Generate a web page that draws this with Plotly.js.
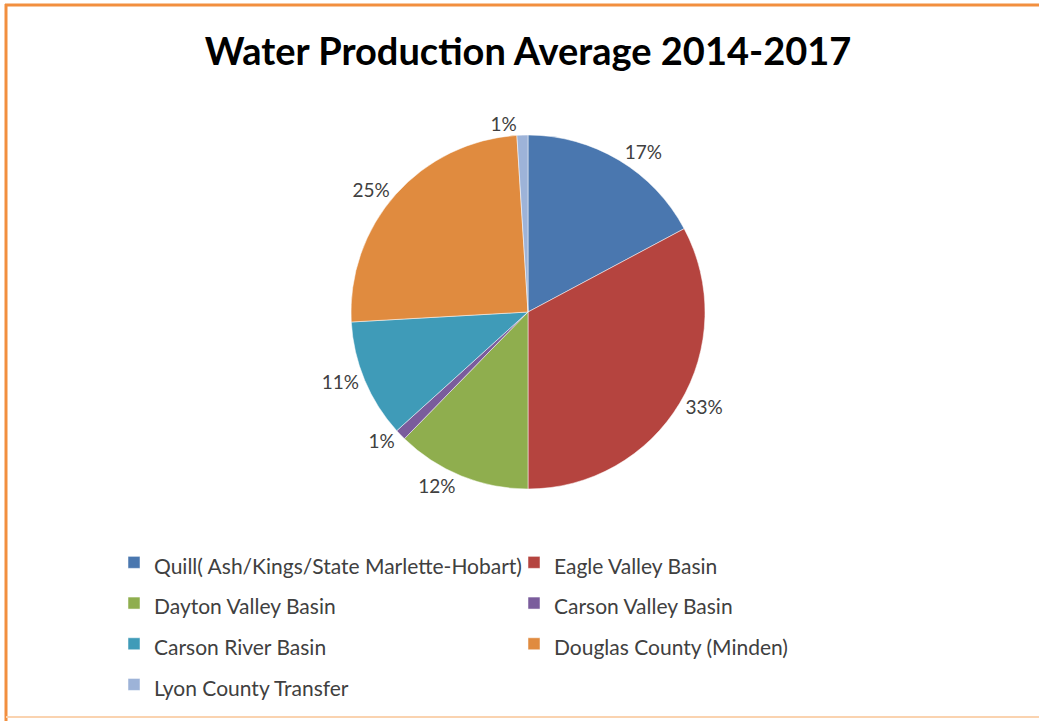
<!DOCTYPE html>
<html>
<head>
<meta charset="utf-8">
<script src="https://cdn.plot.ly/plotly-3.0.1.min.js"></script>
<style>
  html, body { margin: 0; padding: 0; background: #ffffff; }
  #chart { width: 1039px; height: 721px; }
</style>
</head>
<body>
<div id="chart"></div>
<script>
// Data (share of water production, %)
const labels = [
  "Quill( Ash/Kings/State Marlette-Hobart)",
  "Eagle Valley Basin",
  "Dayton Valley Basin",
  "Carson Valley Basin",
  "Carson River Basin",
  "Douglas County (Minden)",
  "Lyon County Transfer"
];
const values = [17.2, 32.8, 12.3, 1.0, 10.8, 24.9, 1.0];
const colors = ["#4A77AF", "#B5443F", "#8FAE4E", "#7A5C9C", "#3F9BB8", "#E08B3F", "#9DB3D8"];

const W = 1039, H = 721;
const cx = 528, cy = 312, r = 177;

// legend text drawn at a smaller size than the legend font, so rows get the reference's spacing
const legendLabels = labels.map(l => '<span style="font-size:21px">' + l + '</span>');

const trace = {
  type: "pie",
  labels: legendLabels,
  values: values,
  sort: false,
  direction: "clockwise",
  rotation: 0,
  marker: { colors: colors, line: { color: "#ffffff", width: 0.5 } },
  textposition: "outside",
  texttemplate: "%{percent:.0%}",
  outsidetextfont: { family: "Lato, 'Open Sans', sans-serif", size: 19, color: "#404040" },
  hoverinfo: "label+percent",
  domain: {
    x: [(cx - r) / W, (cx + r) / W],
    y: [(H - cy - r) / H, (H - cy + r) / H]
  },
  showlegend: true
};

const layout = {
  width: W,
  height: H,
  margin: { l: 0, r: 0, t: 0, b: 0 },
  paper_bgcolor: "#ffffff",
  title: {
    text: "<b>Water Production Average 2014-2017</b>",
    font: { family: "Lato, 'Open Sans', sans-serif", size: 38, color: "#000000" },
    x: 528 / W,
    xanchor: "center",
    y: 1 - 52 / H,
    yanchor: "middle"
  },
  legend: {
    orientation: "h",
    x: 114 / W,
    xanchor: "left",
    y: 1 - 537 / H,
    yanchor: "top",
    entrywidth: 355,
    entrywidthmode: "pixels",
    font: { family: "Lato, 'Open Sans', sans-serif", size: 29, color: "#404040" },
    itemwidth: 30,
    bgcolor: "rgba(0,0,0,0)"
  },
  shapes: [
    { type: "line", xref: "paper", yref: "paper", x0: 5 / W, x1: 1, y0: 1 - 5 / H, y1: 1 - 5 / H, line: { color: "#F28F3F", width: 3 } },
    { type: "line", xref: "paper", yref: "paper", x0: 6 / W, x1: 6 / W, y0: 0, y1: 1 - 4 / H, line: { color: "#F28F3F", width: 3 } },
    { type: "line", xref: "paper", yref: "paper", x0: 6 / W, x1: 1, y0: 4 / H, y1: 4 / H, line: { color: "#FAD3B0", width: 2 } }
  ]
};

Plotly.newPlot("chart", [trace], layout, { displayModeBar: false, staticPlot: true });
</script>
</body>
</html>
